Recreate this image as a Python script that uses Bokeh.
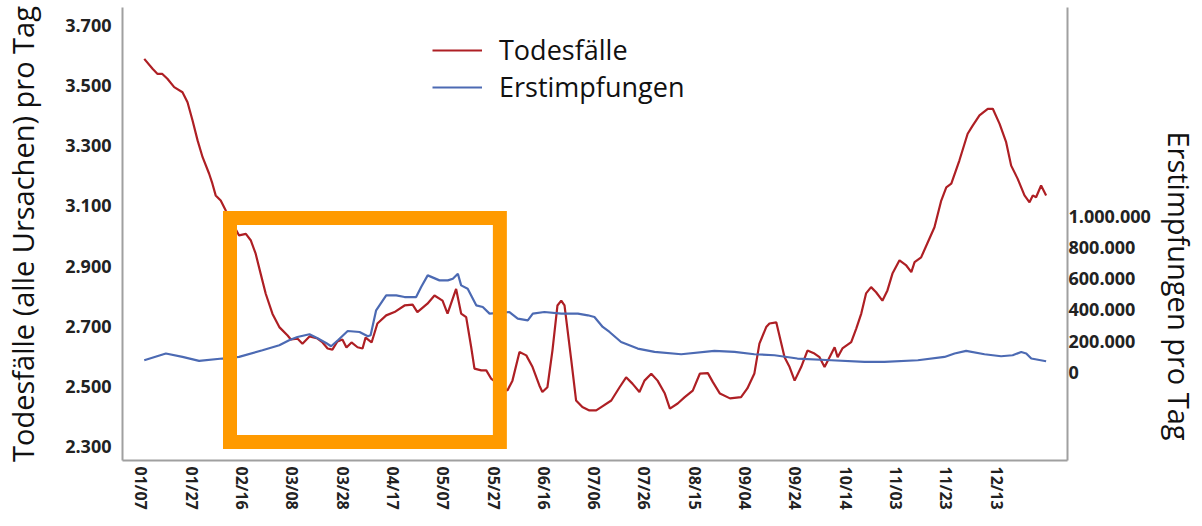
from bokeh.plotting import figure
from bokeh.models import Range1d, LinearAxis, FixedTicker, Legend, LegendItem, Title
from bokeh.embed import file_html
from bokeh.resources import INLINE

# ---- data (day of year 2021) ----
death_days = [8.1, 11.4, 13.4, 15.3, 17.3, 20.0, 23.3, 25.3, 27.3, 29.3,
              31.3, 33.9, 35.2, 36.5, 38.5, 40.5, 45.8, 48.5, 50.5, 52.4,
              54.4, 56.4, 59.1, 61.8, 65.1, 66.4, 69.0, 71.0, 73.8, 77.0,
              79.0, 81.0, 82.9, 84.9, 86.9, 88.5, 90.5, 92.9, 94.9, 96.1,
              98.5, 100.8, 104.3, 107.6, 111.6, 114.8, 116.7, 120.7, 123.5, 126.7,
              128.7, 132.1, 134.1, 136.1, 138.1, 139.4, 142.1, 144.1, 146.0, 152.5,
              154.5, 157.3, 160.0, 162.5, 165.2, 166.4, 168.4, 170.4, 172.4, 173.9,
              175.2, 177.9, 179.8, 182.3, 185.1, 187.8, 189.8, 193.8, 197.1, 199.7,
              202.2, 205.0, 207.0, 209.7, 212.2, 215.1, 217.1, 220.2, 223.0, 226.2,
              229.0, 232.2, 234.2, 237.0, 241.0, 245.4, 247.9, 250.7, 252.7, 255.4,
              256.7, 259.4, 262.7, 264.7, 266.7, 269.3, 271.8, 274.6, 276.6, 278.6,
              280.6, 282.6, 283.8, 285.7, 289.2, 291.2, 293.2, 295.1, 297.1, 299.1,
              301.6, 303.6, 305.6, 308.4, 311.1, 313.1, 314.4, 317.0, 322.3, 325.0,
              327.0, 329.0, 332.2, 335.5, 337.5, 340.2, 343.5, 345.5, 348.2, 350.8,
              352.8, 355.4, 358.1, 360.1, 361.4, 362.7, 364.7, 366.7]
death_values = [3589, 3556, 3539, 3539, 3523, 3495, 3478, 3445, 3384, 3318,
                3262, 3207, 3174, 3135, 3118, 3085, 3002, 3007, 2985, 2941,
                2874, 2808, 2741, 2697, 2669, 2656, 2659, 2642, 2666, 2659,
                2646, 2626, 2622, 2649, 2656, 2629, 2646, 2630, 2626, 2662,
                2646, 2709, 2736, 2747, 2769, 2772, 2747, 2775, 2802, 2785,
                2742, 2824, 2742, 2730, 2630, 2559, 2553, 2553, 2526, 2486,
                2519, 2614, 2603, 2564, 2503, 2481, 2497, 2619, 2769, 2785,
                2769, 2586, 2453, 2431, 2420, 2420, 2431, 2453, 2497, 2530,
                2509, 2481, 2519, 2542, 2519, 2476, 2426, 2443, 2464, 2486,
                2542, 2544, 2514, 2476, 2460, 2464, 2493, 2543, 2642, 2697,
                2709, 2713, 2597, 2564, 2519, 2564, 2619, 2609, 2597, 2564,
                2597, 2630, 2597, 2626, 2647, 2692, 2742, 2809, 2830, 2813,
                2785, 2819, 2875, 2919, 2902, 2880, 2913, 2929, 3029, 3118,
                3162, 3174, 3251, 3340, 3367, 3401, 3423, 3423, 3373, 3312,
                3234, 3190, 3135, 3112, 3135, 3129, 3168, 3135]

vacc_days = [8.1, 16.7, 23.3, 29.9, 39.2, 45.8, 55.1, 61.8, 65.7, 69.0,
             73.8, 77.0, 80.4, 82.4, 85.1, 89.0, 93.7, 97.0, 98.1, 100.3,
             104.3, 108.3, 111.6, 116.2, 118.2, 120.8, 125.5, 128.8, 130.8, 132.8,
             134.1, 136.7, 140.1, 142.7, 145.4, 153.3, 156.6, 160.6, 162.6, 167.2,
             173.9, 180.5, 184.5, 187.1, 190.4, 193.1, 197.7, 204.3, 211.0, 221.6,
             234.8, 242.8, 250.7, 258.7, 267.8, 281.2, 294.5, 302.4, 315.7, 326.3,
             330.3, 334.9, 342.2, 348.8, 353.4, 356.8, 358.8, 360.8, 366.7]
vacc_values = [76900, 119900, 98100, 72400, 87800, 98100, 141000, 173100, 205100, 226300,
               243600, 217900, 187800, 166700, 205100, 264700, 258300, 230800, 237200, 397400,
               493600, 493600, 482700, 482700, 546800, 621800, 589700, 589700, 600600, 632700,
               557700, 536500, 429500, 418600, 376300, 386500, 344200, 333300, 376300, 386500,
               376300, 376300, 365400, 354500, 290400, 258300, 194200, 151900, 130100, 115400,
               136500, 130100, 115400, 109000, 87800, 76900, 66000, 66000, 76900, 98100,
               119900, 136500, 115400, 102600, 109000, 130100, 119900, 87800, 70500]

tick_days = [7, 27, 47, 67, 87, 107, 127, 147, 167, 187, 207, 227, 247, 267, 287, 307, 327, 347]
tick_labels = ["01/07", "01/27", "02/16", "03/08", "03/28", "04/17", "05/07", "05/27", "06/16",
               "07/06", "07/26", "08/15", "09/04", "09/24", "10/14", "11/03", "11/23", "12/13"]
left_ticks = [2300, 2500, 2700, 2900, 3100, 3300, 3500, 3700]
right_ticks = [0, 200000, 400000, 600000, 800000, 1000000]

# highlighted period (orange frame)
hl_start, hl_end = 42.2, 149.5
hl_low, hl_high = 2315, 3060

FONT = "Open Sans"
AXIS_GRAY = "#a0a0a0"
RED = "#AE1F24"
BLUE = "#4C6AB3"

def de(v):
    return f"{v:,}".replace(",", ".")

X_END = 375.2
p = figure(frame_width=945, frame_height=453, output_backend="svg", toolbar_location=None,
           x_range=Range1d(-0.55, X_END), y_range=Range1d(2253.4, 3759.9),
           min_border_left=118, min_border_top=7, min_border_right=0, min_border_bottom=0)
p.extra_y_ranges = {"vacc": Range1d(-567100, 2342300)}

p.grid.visible = False
p.outline_line_color = None
p.background_fill_color = "white"

# bottom axis
xa = p.xaxis[0]
xa.ticker = FixedTicker(ticks=tick_days)
xa.major_label_overrides = {d: l for d, l in zip(tick_days, tick_labels)}
xa.major_label_orientation = -1.5707963
xa.major_label_standoff = 0

# left axis
ya = p.yaxis[0]
ya.ticker = FixedTicker(ticks=left_ticks)
ya.major_label_overrides = {v: de(v) for v in left_ticks}
ya.axis_label = "Todesfälle (alle Ursachen) pro Tag"
ya.axis_label_standoff = 20

# right axis
ra = LinearAxis(y_range_name="vacc", ticker=FixedTicker(ticks=right_ticks))
ra.major_label_overrides = {v: de(v) for v in right_ticks}
ra.major_label_standoff = -5
p.add_layout(ra, "right")

for ax in (xa, ya, ra):
    ax.axis_line_color = AXIS_GRAY
    ax.axis_line_width = 2
    ax.major_tick_line_color = None
    ax.minor_tick_line_color = None
    ax.major_label_text_font = FONT
    ax.major_label_text_font_style = "bold"
    ax.major_label_text_font_size = "16px"
    ax.major_label_text_color = "#222222"
    ax.axis_label_text_font = FONT
    ax.axis_label_text_font_style = "normal"
    ax.axis_label_text_font_size = "29px"
    ax.axis_label_text_color = "#111111"
ya.major_label_text_font_size = "18px"
ra.major_label_text_font_size = "18px"

# right axis title, placed next to the 0 .. 1.000.000 part of the scale
p.add_layout(Title(text="Erstimpfungen pro Tag", align="left", offset=124, standoff=13,
                   text_font=FONT, text_font_size="29px", text_font_style="normal",
                   text_color="#111111"), "right")

r_death = p.line(death_days, death_values, line_color=RED, line_width=2.2)
r_vacc = p.line(vacc_days, vacc_values, line_color=BLUE, line_width=2.2, y_range_name="vacc")

p.quad(left=[hl_start], right=[hl_end], bottom=[hl_low], top=[hl_high],
       fill_color=None, line_color="#FF9A00", line_width=14, line_join="miter")

def make_legend(label, renderer, vy):
    lg = Legend(items=[LegendItem(label=label, renderers=[renderer])], location=(310, vy))
    lg.label_text_font = FONT
    lg.label_text_font_size = "27px"
    lg.label_text_color = "#111111"
    lg.glyph_width = 50
    lg.label_standoff = 17
    lg.border_line_color = None
    lg.background_fill_alpha = 0
    return lg

p.add_layout(make_legend("Todesfälle", r_death, 392), "center")
p.add_layout(make_legend("Erstimpfungen", r_vacc, 355), "center")

open("out.html", "w").write(file_html(p, INLINE))
